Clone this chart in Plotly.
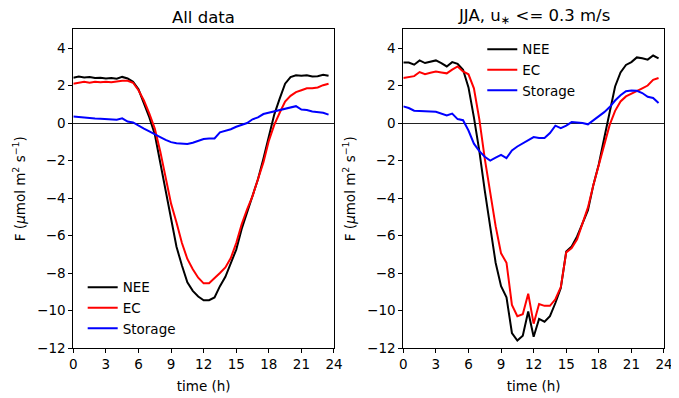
import numpy as np
import plotly.graph_objects as go
from plotly.subplots import make_subplots

hours = np.arange(0, 24, 0.5)

# All data
nee_all = [2.42, 2.48, 2.43, 2.46, 2.40, 2.42, 2.38, 2.40, 2.36, 2.46, 2.38, 2.20,
           1.80, 1.10, 0.30, -0.60, -2.10, -3.70, -5.20, -6.60, -7.60, -8.50, -8.95, -9.25,
           -9.45, -9.45, -9.30, -8.70, -8.20, -7.50, -6.75, -5.65, -4.75, -3.90, -3.00, -1.90,
           -0.80, 0.45, 1.30, 2.10, 2.45, 2.55, 2.52, 2.55, 2.48, 2.50, 2.58, 2.52]
ec_all = [2.10, 2.15, 2.20, 2.15, 2.20, 2.18, 2.20, 2.18, 2.22, 2.26, 2.25, 2.15,
          1.75, 1.20, 0.50, -0.30, -1.50, -3.00, -4.30, -5.30, -6.40, -7.25, -7.80, -8.25,
          -8.55, -8.55, -8.30, -8.00, -7.70, -7.20, -6.40, -5.40, -4.60, -3.90, -3.00, -2.10,
          -0.95, -0.10, 0.55, 1.15, 1.45, 1.65, 1.75, 1.85, 1.85, 1.90, 2.02, 2.10]
sto_all = [0.35, 0.32, 0.26, 0.25, 0.24, 0.23, 0.22, 0.20, 0.18, 0.25, 0.08, 0.03,
           -0.15, -0.30, -0.45, -0.58, -0.75, -0.90, -1.02, -1.08, -1.12, -1.12, -1.05, -0.95,
           -0.85, -0.83, -0.82, -0.50, -0.42, -0.33, -0.20, -0.12, 0.00, 0.20, 0.30, 0.48,
           0.55, 0.65, 0.72, 0.80, 0.85, 0.90, 0.72, 0.70, 0.62, 0.58, 0.55, 0.45]

# JJA, low u*
nee_jja = [3.23, 3.23, 3.11, 3.34, 3.20, 3.25, 3.34, 3.20, 3.02, 3.25, 3.16, 2.84,
           1.90, 0.30, -1.50, -3.60, -5.50, -7.45, -8.70, -9.30, -11.20, -11.60, -11.35, -10.05,
           -11.40, -10.45, -10.60, -10.30, -9.60, -8.80, -6.85, -6.58, -6.05, -5.30, -4.65, -3.30,
           -2.20, -0.80, 0.50, 1.95, 2.70, 3.10, 3.25, 3.50, 3.45, 3.38, 3.60, 3.45]
ec_jja = [2.40, 2.45, 2.50, 2.72, 2.60, 2.68, 2.75, 2.70, 2.65, 2.85, 3.02, 2.75,
          2.60, 1.85, 0.20, -1.90, -3.80, -5.50, -6.95, -7.45, -9.70, -10.30, -10.20, -9.10,
          -10.70, -9.65, -9.75, -9.75, -9.40, -8.75, -6.90, -6.67, -6.20, -5.40, -4.50, -3.30,
          -2.20, -1.20, -0.10, 0.65, 1.15, 1.42, 1.55, 1.70, 1.85, 2.00, 2.30, 2.40]
sto_jja = [0.89, 0.80, 0.66, 0.66, 0.66, 0.62, 0.60, 0.48, 0.40, 0.50, 0.21, 0.15,
           -0.40, -1.10, -1.50, -1.80, -2.00, -1.85, -1.70, -1.87, -1.46, -1.25, -1.08, -0.94,
           -0.75, -0.80, -0.80, -0.53, -0.14, -0.27, -0.14, 0.05, 0.04, 0.00, -0.07, 0.15,
           0.38, 0.58, 0.85, 1.20, 1.48, 1.70, 1.74, 1.72, 1.60, 1.40, 1.34, 1.07]

names = ['NEE', 'EC', 'Storage']
colors = ['black', 'red', 'blue']
titles = ['All data', 'JJA, u<sub>∗</sub> <= 0.3 m/s']

FONT = 'DejaVu Sans'
# the page body adds an 8 px offset, so the domains are shifted to compensate
XDOM = [[0.0962, 0.4801], [0.5822, 0.9661]]
YDOM = [0.1457, 0.9465]

fig = make_subplots(rows=1, cols=2)

for col, series, leg in [(1, [nee_all, ec_all, sto_all], 'legend'),
                         (2, [nee_jja, ec_jja, sto_jja], 'legend2')]:
    for name, vals, c in zip(names, series, colors):
        fig.add_trace(go.Scatter(x=hours, y=vals, mode='lines', name=name,
                                 line=dict(color=c, width=2), legend=leg),
                      row=1, col=col)

ax_style = dict(showline=True, linecolor='black', linewidth=1, mirror=True,
                ticks='outside', ticklen=4, tickcolor='black', showgrid=False,
                automargin=False, tickfont=dict(size=13.5, color='black'))

fig.update_xaxes(range=[0, 24], tickmode='linear', tick0=0, dtick=3, zeroline=False,
                 title=dict(text='time (h)', font=dict(size=13.5, color='black'), standoff=10),
                 **ax_style)
fig.update_yaxes(range=[-12, 5], tickmode='linear', tick0=-12, dtick=2,
                 zeroline=True, zerolinecolor='#222', zerolinewidth=0.8,
                 title=dict(text='F (<i>μ</i>mol m<sup>2</sup> s<sup>−1</sup>)',
                            font=dict(size=13.5, color='black'), standoff=8),
                 **ax_style)

fig.update_layout(
    xaxis=dict(domain=XDOM[0]),
    xaxis2=dict(domain=XDOM[1]),
    yaxis=dict(domain=YDOM),
    yaxis2=dict(domain=YDOM),
)

for dom, t in zip(XDOM, titles):
    fig.add_annotation(text=t, x=(dom[0] + dom[1]) / 2, y=0.949, xref='paper', yref='paper',
                       xanchor='center', yanchor='bottom', showarrow=False, borderpad=0,
                       font=dict(size=16.5, color='black'))

fig.update_layout(
    width=679, height=398,
    margin=dict(l=0, r=0, t=0, b=0),
    paper_bgcolor='white', plot_bgcolor='white',
    font=dict(family=FONT, color='black'),
    legend=dict(x=0.11, y=0.337, xanchor='left', yanchor='top',
                bgcolor='rgba(0,0,0,0)', font=dict(size=13.5)),
    legend2=dict(x=0.6985, y=0.935, xanchor='left', yanchor='top',
                 bgcolor='rgba(0,0,0,0)', font=dict(size=13.5)),
)

fig.write_html("out.html")
